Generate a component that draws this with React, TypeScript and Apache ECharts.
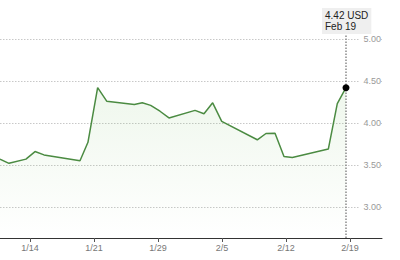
import React, { useEffect, useRef } from "react";
import * as echarts from "echarts";

// x values: day positions on the chart's time scale (tick 14 = "1/14", 7 per week)
const dayX = [10.72, 11.7, 13.56, 14.55, 15.53, 19.47, 20.34, 21.4, 22.39, 25.41, 26.28, 27.2, 28.22, 29.2, 32.05, 33.03, 33.98, 34.97, 38.86, 39.81, 40.8, 41.78, 42.69, 46.63, 47.61, 48.56];
const prices = [3.57, 3.52, 3.57, 3.66, 3.62, 3.55, 3.77, 4.42, 4.26, 4.22, 4.24, 4.21, 4.14, 4.06, 4.15, 4.11, 4.24, 4.02, 3.8, 3.875, 3.877, 3.6, 3.59, 3.69, 4.23, 4.42];
const xTickValues = [14, 21, 28, 35, 42, 49];
const xTickLabels = ["1/14", "1/21", "1/29", "2/5", "2/12", "2/19"];
const lastDateLabel = "Feb 19";
const currency = "USD";

const FONT = "'Liberation Sans', Arial, Helvetica, sans-serif";

export default function App() {
  const ref = useRef<HTMLDivElement>(null);
  useEffect(() => {
    if (!ref.current) return;
    const chart = echarts.init(ref.current, null, { renderer: "svg" });
    const yFloor = 2.631;
    const lastX = dayX[dayX.length - 1];
    const lastY = prices[prices.length - 1];
    const guideTop = 5.06;
    chart.setOption({
      animation: false,
      textStyle: { fontFamily: FONT },
      grid: { left: 0, right: 18, top: 0, bottom: 11, containLabel: false },
      xAxis: {
        type: "value",
        min: 10.72,
        max: 52.5,
        offset: -11,
        axisLine: { show: true, lineStyle: { color: "#333", width: 1 } },
        axisTick: { show: true, length: 4, customValues: xTickValues, lineStyle: { color: "#555" } },
        axisLabel: {
          customValues: xTickValues,
          formatter: (v: number) => {
            const i = xTickValues.indexOf(Math.round(v));
            return i >= 0 ? xTickLabels[i] : "";
          },
          color: "#777",
          fontSize: 9,
          margin: 5,
          fontFamily: FONT,
        },
        splitLine: { show: false },
      },
      yAxis: {
        type: "value",
        position: "right",
        min: 2.5,
        max: 5.464,
        interval: 0.5,
        axisLine: { show: false },
        axisTick: { show: false },
        splitLine: {
          show: true,
          showMinLine: false,
          showMaxLine: false,
          lineStyle: { color: "#c8c8c8", type: [1.5, 1.5], width: 1 },
        },
        axisLabel: {
          inside: true,
          showMinLabel: false,
          showMaxLabel: false,
          formatter: (v: number) => (v >= 2.99 && v <= 5.01 ? v.toFixed(2) : ""),
          color: "#999",
          fontSize: 9,
          margin: 1,
          backgroundColor: "#fff",
          padding: [1, 0, 1, 4],
          fontFamily: FONT,
        },
      },
      series: [
        {
          type: "line",
          data: dayX.map((x, i) => [x, prices[i]]),
          showSymbol: false,
          clip: true,
          lineStyle: { color: "#4b8b42", width: 1.5 },
          itemStyle: { color: "#4b8b42" },
          areaStyle: {
            origin: yFloor,
            color: new echarts.graphic.LinearGradient(0, 0, 0, 1, [
              { offset: 0, color: "rgba(110,185,90,0.16)" },
              { offset: 1, color: "rgba(110,185,90,0.0)" },
            ]),
          },
          markLine: {
            silent: true,
            symbol: ["none", "none"],
            label: { show: false },
            lineStyle: { color: "#8a8a8a", type: [1.5, 1.5], width: 1.5 },
            data: [[{ coord: [lastX, yFloor] }, { coord: [lastX, guideTop] }]],
          },
          markPoint: {
            silent: true,
            data: [
              {
                coord: [lastX, lastY],
                symbol: "circle",
                symbolSize: 7,
                itemStyle: { color: "#000" },
                label: { show: false },
              },
              {
                coord: [lastX, guideTop],
                symbol: "circle",
                symbolSize: 0,
                label: {
                  show: true,
                  position: "top",
                  distance: 0,
                  offset: [-24, 0],
                  formatter: `${lastY.toFixed(2)} ${currency}\n${lastDateLabel}`,
                  backgroundColor: "#efefef",
                  padding: [2, 3, 2, 3],
                  color: "#222",
                  fontSize: 10,
                  lineHeight: 11,
                  align: "left",
                  fontFamily: FONT,
                },
              },
            ],
          },
        },
      ],
    });
    return () => chart.dispose();
  }, []);
  return (
    <div
      ref={ref}
      style={{ position: "fixed", left: 0, top: 0, width: 400, height: 260, background: "#fff" }}
    />
  );
}
